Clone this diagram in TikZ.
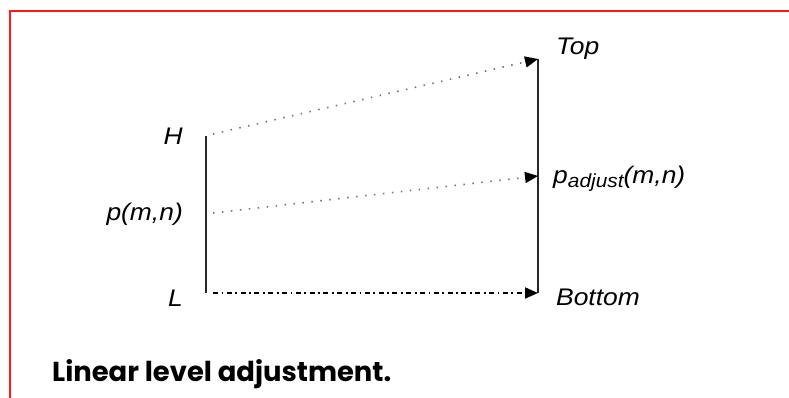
\documentclass[tikz,border=0pt]{standalone}
\usepackage{fontspec}
\setmainfont{Liberation Sans}
\newfontfamily\capfont{Poppins}
\usetikzlibrary{arrows.meta}
\tikzset{
  lbl/.style={inner sep=0pt, font=\fontsize{24}{24}\selectfont\itshape},
  vline/.style={draw=black!85, line width=2pt},
  dotline/.style={draw=black!55, line width=1.6pt, dash pattern=on 1.5pt off 7.5pt, -{Triangle[length=13pt,width=11pt]}, arrows={[black]}},
  dashdotline/.style={draw=black, line width=1.8pt, dash pattern=on 5pt off 3.5pt on 1.8pt off 3.5pt, -{Triangle[length=13pt,width=11pt]}},
}
\newcommand{\sx}[1]{\scalebox{1.1}[1]{#1}}
\begin{document}
\begin{tikzpicture}[x=1pt,y=-1pt]
\useasboundingbox (0,0) rectangle (789,398);
\fill[white] (0,0) rectangle (789,398);
\draw[draw={rgb,255:red,255;green,25;blue,25}, line width=2.2pt] (10,400) -- (10,11) -- (792,11);
% coordinates
\coordinate (hl) at (206,136);
\coordinate (ll) at (206,293);
\coordinate (tr) at (538,59);
\coordinate (mr) at (538,176);
\coordinate (br) at (538,293);
\coordinate (hs) at (213,134);
\coordinate (ps) at (213,213);
\coordinate (ls) at (213,293);
% vertical lines
\draw[vline] (hl) -- (ll);
\draw[vline] (tr) -- (br);
% arrows
\draw[dotline] (hs) -- (tr);
\draw[dotline] (ps) -- (mr);
\draw[dashdotline] (ls) -- (br);
% labels
\node[lbl, anchor=base east] (H) at (183,145) {\sx{H}};
\node[lbl, anchor=base east] (P) at (183,220) {\sx{p(m,n)}};
\node[lbl, anchor=base east] (L) at (183,306) {\sx{L}};
\node[lbl, anchor=base west] (T) at (556,55) {\sx{Top}};
\node[lbl, anchor=base west] (PA) at (553,183) {\sx{p\raisebox{-4pt}{\fontsize{19}{19}\selectfont adjust}(m,n)}};
\node[lbl, anchor=base west] (B) at (556,305) {\sx{Bottom}};
\node[inner sep=0pt, anchor=base west] (cap) at (52,381) {\resizebox{339pt}{!}{\capfont\bfseries Linear level adjustment.}};
\end{tikzpicture}
\end{document}
